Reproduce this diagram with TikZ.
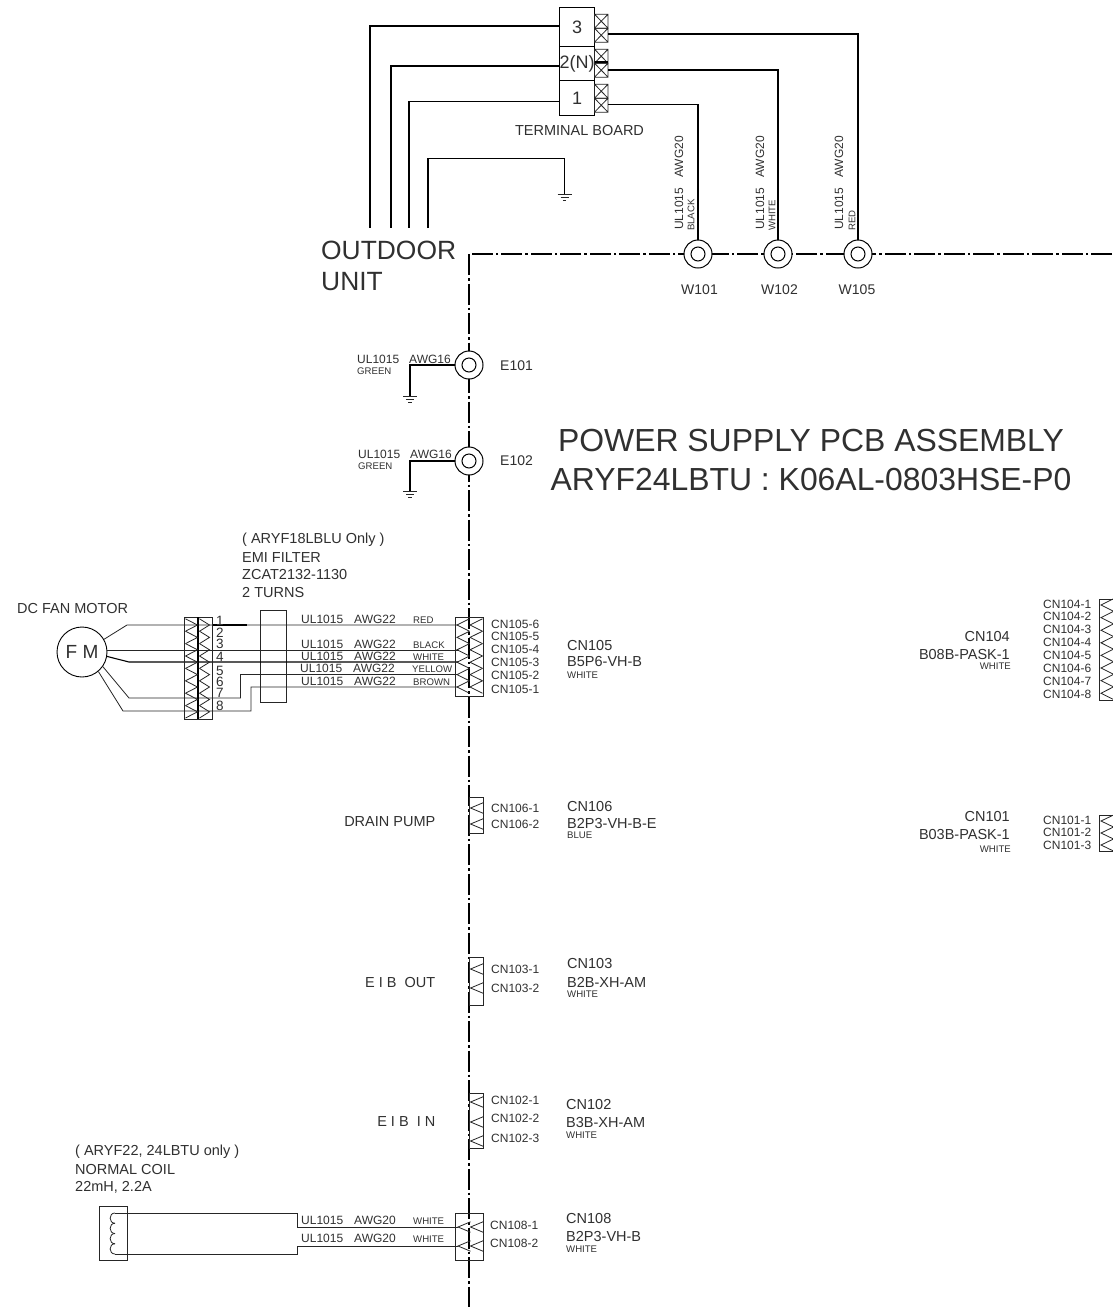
\documentclass[tikz,border=0pt]{standalone}
\usepackage{fontspec}
\setmainfont{Liberation Sans}
\usetikzlibrary{calc}
\definecolor{txt}{HTML}{303030}
\newcommand{\fs}[1]{\fontsize{#1}{#1}\selectfont}
\tikzset{
  lab/.style={anchor=west,inner sep=0pt,text=txt,font=\fs{12}},
  labr/.style={anchor=east,inner sep=0pt,text=txt,font=\fs{12}},
  labc/.style={anchor=center,inner sep=0pt,text=txt,font=\fs{14}},
  tiny/.style={anchor=west,inner sep=0pt,text=txt,font=\fs{9.6}},
  mid/.style={anchor=west,inner sep=0pt,text=txt,font=\fs{14.5}},
  vlab/.style={anchor=west,rotate=90,inner sep=0pt,text=txt,font=\fs{12}},
  vtiny/.style={anchor=west,rotate=90,inner sep=0pt,text=txt,font=\fs{9.6}},
  thin wire/.style={line width=0.8pt,black!85},
  heavy wire/.style={line width=1.5pt,black,line join=miter},
  chev/.style={line width=0.8pt,black!85},
  border/.style={line width=1.7pt,black,dash pattern=on 21pt off 3pt on 2.5pt off 3pt},
  ring/.style={circle,draw,line width=1pt,fill=white,minimum size=28pt,inner sep=0pt},
  ringin/.style={circle,draw,line width=1pt,fill=white,minimum size=14pt,inner sep=0pt},
  term/.style={draw,line width=0.8pt,fill=white,minimum width=35pt,inner sep=0pt,text=txt,font=\fs{18}},
  cbox/.style={draw,line width=0.9pt,black!85,anchor=north west,inner sep=0pt},
}
% chevrons: tip x, y, half height
\newcommand{\chL}[3]{\draw[chev] (#1+12.5,#2-#3) -- (#1,#2) -- (#1+12.5,#2+#3);}
\newcommand{\chR}[4]{\draw[chev] (#1-#4,#2-#3) -- (#1,#2) -- (#1-#4,#2+#3);}
\newcommand{\gnd}[2]{%
  \draw[line width=0.9pt,black!85] (#1-7,#2) -- (#1+7,#2) (#1-4,#2+3) -- (#1+4,#2+3) (#1-1.7,#2+6) -- (#1+1.7,#2+6);}
\newcommand{\xbox}[2]{%
  \draw[line width=0.8pt,black!85] (#1,#2) rectangle (#1+13.5,#2+14)
    (#1,#2) -- (#1+13.5,#2+14) (#1+13.5,#2) -- (#1,#2+14);}
\begin{document}
\begin{tikzpicture}[x=1pt,y=-1pt]
\useasboundingbox[fill=white] (0,0) rectangle (1112,1307);

% boundary lines
\coordinate (bc) at (469,254);
\coordinate (be) at (1112,254);
\coordinate (bs) at (469,1307);
\draw[border] (be) -- (bc);
\draw[border] (bc) -- (bs);

% terminal board
\node[term,minimum height=38.5pt,anchor=north west] (t3) at (559.2,7.2) {3};
\node[term,minimum height=34.5pt,anchor=north west] (t2) at (559.2,45.7) {2(N)};
\node[term,minimum height=35pt,anchor=north west] (t1) at (559.2,80.2) {1};
\foreach \y in {14.2,28.2,49.2,63.2,84.2,98.2}{\xbox{594.5}{\y}}
\node[labc,font=\fs{14.5}] (tb) at (579.5,131) {TERMINAL BOARD};

% rings
\foreach \n/\x in {w101/698,w102/778,w105/858}{
  \node[ring] (\n) at (\x,254) {};
  \node[ringin] (\n i) at (\x,254) {};
}
\foreach \n/\y in {e101/365,e102/461}{
  \node[ring] (\n) at (469,\y) {};
  \node[ringin] (\n i) at (469,\y) {};
}

% outdoor unit wires
\coordinate (o3) at (370,228);
\coordinate (o2) at (391,228);
\coordinate (o1) at (409,228);
\coordinate (o0) at (428,228);
\coordinate (g0) at (564.5,194);
\draw[heavy wire] (t3.west |- 0,26) -- (370,26) -- (o3);
\draw[heavy wire] (t2.west |- 0,66) -- (391,66) -- (o2);
\draw[heavy wire] (t1.west |- 0,101.5) -- (409,101.5) -- (o1);
\draw[heavy wire] (o0) -- (428,158.5) -- (564.5,158.5) -- (g0);
\gnd{564.5}{194}
\draw[heavy wire] (608,34.2) -- (858,34.2) -- (w105.north);
\draw[heavy wire] (608,70) -- (778,70) -- (w102.north);
\draw[heavy wire] (608,104.3) -- (698,104.3) -- (w101.north);
\draw[heavy wire] (594.5,62) -- (608,62);

\foreach \n/\x/\tx/\c in {a/679/691/BLACK,b/760/772/WHITE,c/839/852/RED}{
  \node[vlab] (\n u) at (\x,230) {UL1015};
  \node[vlab] (\n a) at (\x,178) {AWG20};
  \node[vtiny] (\n c) at (\tx,231) {\c};
}
\node[labc] (lw101) at (699.5,290) {W101};
\node[labc] (lw102) at (779.5,290) {W102};
\node[labc] (lw105) at (857,290) {W105};
\node[anchor=west,inner sep=0pt,text=txt,font=\fs{26.4}] (outa) at (321,250) {OUTDOOR};
\node[anchor=west,inner sep=0pt,text=txt,font=\fs{26.4}] (outb) at (321,282) {UNIT};

% earth
\coordinate (g1) at (410,396);
\coordinate (g2) at (410,491.5);
\draw[heavy wire] (e101.west) -- (410,365) -- (g1);
\draw[heavy wire] (e102.west) -- (410,461) -- (g2);
\gnd{410}{396}
\gnd{410}{491.5}
\node[lab] (eu1) at (357,359) {UL1015};
\node[lab] (ea1) at (409,359) {AWG16};
\node[tiny] (eg1) at (357,371) {GREEN};
\node[lab] (eu2) at (358,454) {UL1015};
\node[lab] (ea2) at (410,454) {AWG16};
\node[tiny] (eg2) at (358,466) {GREEN};
\node[labc,anchor=west] (le1) at (500,366) {E101};
\node[labc,anchor=west] (le2) at (500,461) {E102};

\node[anchor=center,inner sep=0pt,text=txt,font=\fs{31.9}] (pa) at (811,441) {POWER SUPPLY PCB ASSEMBLY};
\node[anchor=center,inner sep=0pt,text=txt,font=\fs{31.9}] (pb) at (811,480) {ARYF24LBTU : K06AL-0803HSE-P0};

% fan motor
\node[lab,font=\fs{14.5}] (dcfan) at (17,608) {DC FAN MOTOR};
\node[circle,draw,line width=0.9pt,minimum size=50pt,inner sep=0pt,text=txt,font=\fs{19}] (fm) at (82,652) {F M};
\node[lab,font=\fs{14.5}] (f1) at (242,540) {( ARYF18LBLU Only )};
\node[lab,font=\fs{14.5}] (f2) at (242,557.5) {EMI FILTER};
\node[lab,font=\fs{14.5}] (f3) at (242,574.5) {ZCAT2132-1130};
\node[lab,font=\fs{14.5}] (f4) at (242,592) {2 TURNS};
\node[cbox,minimum width=26pt,minimum height=92pt] (emi) at (260,610) {};
\coordinate (j1) at (458,625);
\coordinate (j2) at (458,650);
\coordinate (j3) at (458,662);
\coordinate (j4) at (458,674.5);
\coordinate (j5) at (458,687);
\draw[thin wire] (fm.30) -- (127,625) -- (j1);
\draw[line width=1.2pt] (212,625) -- (247,625);
\draw[thin wire] (fm.east |- 0,650) -- (j2);
\draw[line width=1.1pt] (fm.-10) -- (129,662) -- (j3);
\draw[thin wire] (fm.-35) -- (129,698) -- (240.5,698) -- (240.5,674.5) -- (j4);
\draw[thin wire] (fm.-50) -- (123,711) -- (251,711) -- (251,687) -- (j5);
% connector at the motor
\node[cbox,minimum width=28pt,minimum height=102pt] (cm) at (184,617) {};
\draw[line width=1.2pt] (198,617) -- (198,719);
\foreach \y in {625,637.4,649.8,662.2,674.6,687,699.4,711.8}{\chR{197.5}{\y}{6.2}{12}\chR{209.5}{\y}{6.2}{10}}
\foreach \i/\y in {1/621,2/632.7,3/644,4/656.7,5/670.7,6/682,7/693,8/705.7}{
  \node[lab,font=\fs{13.5}] (m\i) at (216,\y) {\i};
}
% CN105
\node[cbox,minimum width=28pt,minimum height=78.5pt] (c105) at (455,617) {};
\foreach \y in {625,637.4,649.8,662.2,674.6,687}{\chL{457}{\y}{6.2}\chL{470}{\y}{6.2}}
\foreach \i/\y in {6/624,5/636,4/649,3/662,2/675,1/689}{
  \node[lab] (l105\i) at (491,\y) {CN105-\i};
}
\foreach \n/\x/\y/\c/\cx in {r/301/619/RED/413,k/301/644/BLACK/413,w/301/656.5/WHITE/413,e/300/668.5/YELLOW/412,n/301/681/BROWN/413}{
  \node[lab] (\n u) at (\x,\y) {UL1015};
  \node[lab] (\n a) at (\x+53,\y) {AWG22};
  \node[tiny] (\n c) at (\cx,\y+1) {\c};
}
\node[mid] (n105a) at (567,645) {CN105};
\node[mid] (n105b) at (567,661.5) {B5P6-VH-B};
\node[tiny] (n105c) at (567,675) {WHITE};

% CN104
\node[cbox,minimum width=14pt,minimum height=101pt] (c104) at (1099,599) {};
\foreach \y in {605,617.6,630.2,642.8,655.4,668,680.6,693.2}{\chL{1101}{\y}{6.3}}
\foreach \i/\y in {1/604,2/616.7,3/629.5,4/642,5/655,6/668,7/681,8/694}{
  \node[lab] (l104\i) at (1043,\y) {CN104-\i};
}
\node[labr,font=\fs{14.5}] (n104a) at (1010,636.5) {CN104};
\node[labr,font=\fs{14.5}] (n104b) at (1010,654) {B08B-PASK-1};
\node[labr,font=\fs{9.6}] (n104c) at (1011,666) {WHITE};

% CN101
\node[cbox,minimum width=14pt,minimum height=36pt] (c101) at (1099,815) {};
\foreach \y in {821,833,845}{\chL{1101}{\y}{6}}
\foreach \i/\y in {1/820,2/832.5,3/845}{
  \node[lab] (l101\i) at (1043,\y) {CN101-\i};
}
\node[labr,font=\fs{14.5}] (n101a) at (1010,816) {CN101};
\node[labr,font=\fs{14.5}] (n101b) at (1010,834) {B03B-PASK-1};
\node[labr,font=\fs{9.6}] (n101c) at (1011,849) {WHITE};

% CN106
\node[cbox,minimum width=14pt,minimum height=36pt] (c106) at (469,797) {};
\foreach \y in {808,824}{\chL{470.5}{\y}{5.2}}
\node[lab] (l1061) at (491,808) {CN106-1};
\node[lab] (l1062) at (491,824) {CN106-2};
\node[mid] (n106a) at (567,806) {CN106};
\node[mid] (n106b) at (567,823) {B2P3-VH-B-E};
\node[tiny] (n106c) at (567,835.5) {BLUE};
\node[labr,font=\fs{14.5}] (drain) at (435.5,822) {DRAIN PUMP};

% CN103
\node[cbox,minimum width=14pt,minimum height=48pt] (c103) at (469,957) {};
\foreach \y in {969,988}{\chL{470.5}{\y}{5.2}}
\node[lab] (l1031) at (491,969) {CN103-1};
\node[lab] (l1032) at (491,988) {CN103-2};
\node[mid] (n103a) at (567,963) {CN103};
\node[mid] (n103b) at (567,982) {B2B-XH-AM};
\node[tiny] (n103c) at (567,994.5) {WHITE};
\node[labr,font=\fs{14.5}] (eibo) at (435.5,982) {E I B\ \ OUT};

% CN102
\node[cbox,minimum width=14pt,minimum height=55pt] (c102) at (469,1093) {};
\foreach \y in {1102,1122,1141}{\chL{470.5}{\y}{5.2}}
\node[lab] (l1021) at (491,1100) {CN102-1};
\node[lab] (l1022) at (491,1118) {CN102-2};
\node[lab] (l1023) at (491,1138) {CN102-3};
\node[mid] (n102a) at (566,1104) {CN102};
\node[mid] (n102b) at (566,1122) {B3B-XH-AM};
\node[tiny] (n102c) at (566,1135) {WHITE};
\node[labr,font=\fs{14.5}] (eibi) at (435.5,1121) {E I B\ \ I N};

% coil and CN108
\node[lab,font=\fs{14.5}] (k1) at (75,1152) {( ARYF22, 24LBTU only )};
\node[lab,font=\fs{14.5}] (k2) at (75,1169.5) {NORMAL COIL};
\node[lab,font=\fs{14.5}] (k3) at (75,1187) {22mH, 2.2A};
\node[cbox,minimum width=28pt,minimum height=54pt] (coil) at (99,1206) {};
\coordinate (ca) at (115,1213);
\coordinate (cb) at (115,1254);
\coordinate (j8a) at (458,1227);
\coordinate (j8b) at (458,1246);
\foreach \y in {1213,1223.25,1233.5,1243.75}{
  \draw[thin wire] (115,\y) .. controls (108.5,\y) and (108.5,\y+10.25) .. (115,\y+10.25);
}
\draw[thin wire] (ca) -- (297,1213) -- (297,1227) -- (j8a);
\draw[thin wire] (cb) -- (297,1254) -- (297,1246) -- (j8b);
\node[cbox,minimum width=28pt,minimum height=47pt] (c108) at (455,1213) {};
\foreach \y in {1227,1246}{\chL{458}{\y}{5.2}\chL{470.5}{\y}{5.2}}
\node[lab] (l1081) at (490,1225) {CN108-1};
\node[lab] (l1082) at (490,1243) {CN108-2};
\foreach \n/\y in {p/1220,q/1238}{
  \node[lab] (\n u) at (301,\y) {UL1015};
  \node[lab] (\n a) at (354,\y) {AWG20};
  \node[tiny] (\n c) at (413,\y+1) {WHITE};
}
\node[mid] (n108a) at (566,1218) {CN108};
\node[mid] (n108b) at (566,1236) {B2P3-VH-B};
\node[tiny] (n108c) at (566,1249) {WHITE};
\end{tikzpicture}
\end{document}
